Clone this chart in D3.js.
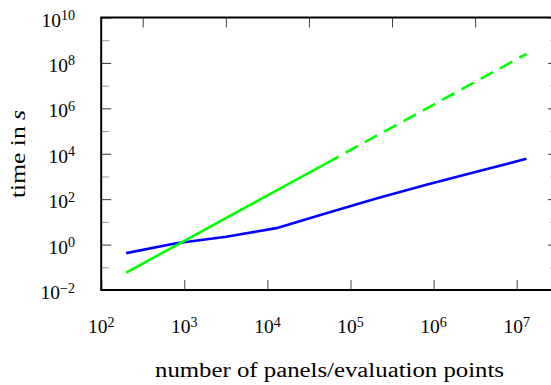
<!DOCTYPE html>
<html>
<head>
<meta charset="utf-8">
<script src="https://cdn.jsdelivr.net/npm/d3@7"></script>
<style>
  html, body { margin: 0; padding: 0; background: #fff; }
  svg { display: block; }
  text { font-family: "Liberation Serif", "Times New Roman", serif; fill: #000; }
</style>
</head>
<body>
<svg id="chart" width="551" height="385"></svg>
<script>
// Problem sizes (number of panels / evaluation points)
const sizes = [200, 800, 3200, 12800, 51200, 204800, 819200, 3276800, 13107200];

// Fast method: measured run times in seconds
const fastTimes = [0.42, 1.15, 2.2, 5.3, 24, 108, 430, 1600, 6000];

// Direct method: measured run times (solid) and extrapolated times (dashed)
const directSizes = [200, 800, 3200, 12800, 51200];
const directTimes = [0.058, 0.93, 14.9, 238, 3800];
const directExtraSizes = [51200, 204800, 819200, 3276800, 13107200];
const directExtraTimes = [3800, 61000, 975000, 15600000, 250000000];

// Tick exponents
const xTickExps = [2, 3, 4, 5, 6, 7];
const xTopTickExps = [2.5, 3.5, 4.5, 5.5, 6.5];
const yMajorExps = [-2, 0, 2, 4, 6, 8, 10];
const yMinorExps = [-1, 1, 3, 5, 7, 9];

const svg = d3.select("#chart");

const plotLeft = 101.2, plotRight = 558.2, plotTop = 17.5, plotBottom = 290;

const x = d3.scaleLog().domain([1e2, Math.pow(10, 7.5)]).range([plotLeft, plotRight]);
const y = d3.scaleLog().domain([1e-2, 1e10]).range([plotBottom, plotTop]);

const pow = e => Math.pow(10, e);

// Tick marks (all pointing into the plot area)
function tickAxis(axisFn, scale, exps, size, color, transform) {
  const g = svg.append("g")
    .attr("transform", transform)
    .call(axisFn(scale).tickValues(exps.map(pow)).tickSizeInner(size).tickSizeOuter(0).tickFormat(""));
  g.select(".domain").remove();
  g.selectAll(".tick line").attr("stroke", color).attr("stroke-width", 1);
  return g;
}

tickAxis(d3.axisBottom, x, xTickExps, -10, "#444", `translate(0,${plotBottom})`);
tickAxis(d3.axisTop, x, xTopTickExps, -10, "#444", `translate(0,${plotTop})`);
tickAxis(d3.axisLeft, y, yMajorExps, -10, "#333", `translate(${plotLeft},0)`);
tickAxis(d3.axisLeft, y, yMinorExps, -8, "#999", `translate(${plotLeft},0)`);
tickAxis(d3.axisRight, y, yMajorExps, -10, "#333", `translate(${plotRight},0)`);
tickAxis(d3.axisRight, y, yMinorExps, -8, "#bbb", `translate(${plotRight},0)`);

// Power-of-ten tick labels
function powLabel(sel, exp) {
  sel.append("tspan").attr("font-size", 19.5).text("10");
  sel.append("tspan").attr("font-size", 14).attr("dy", -6.5)
    .text(exp < 0 ? "\u2212" + Math.abs(exp) : String(exp));
}

xTickExps.forEach(e => {
  const t = svg.append("text")
    .attr("x", x(pow(e)))
    .attr("y", 333.3)
    .attr("text-anchor", "middle");
  powLabel(t, e);
});

yMajorExps.forEach(e => {
  const t = svg.append("text")
    .attr("x", 75)
    .attr("y", y(pow(e)) + 9)
    .attr("text-anchor", "end");
  powLabel(t, e);
});

// Series lines
const line = d3.line().x(d => x(d[0])).y(d => y(d[1]));
const zip = (a, b) => a.map((v, i) => [v, b[i]]);

const plot = svg.append("g");
plot.append("path")
  .datum(zip(sizes, fastTimes))
  .attr("d", line)
  .attr("fill", "none").attr("stroke", "#0000ff").attr("stroke-width", 2.6)
  .attr("stroke-linejoin", "round");

plot.append("path")
  .datum(zip(directSizes, directTimes))
  .attr("d", line)
  .attr("fill", "none").attr("stroke", "#00ff00").attr("stroke-width", 2.6);

plot.append("path")
  .datum(zip(directExtraSizes, directExtraTimes))
  .attr("d", line)
  .attr("fill", "none").attr("stroke", "#00ff00").attr("stroke-width", 2.6)
  .attr("stroke-dasharray", "14,8");

// Frame
svg.append("rect")
  .attr("x", plotLeft).attr("y", plotTop)
  .attr("width", plotRight - plotLeft).attr("height", plotBottom - plotTop)
  .attr("fill", "none").attr("stroke", "#000").attr("stroke-width", 2);

// Axis titles
svg.append("text")
  .attr("x", 329.5).attr("y", 376.5)
  .attr("text-anchor", "middle")
  .attr("font-size", 20.5)
  .attr("textLength", 349).attr("lengthAdjust", "spacingAndGlyphs")
  .text("number of panels/evaluation points");

const yt = svg.append("text")
  .attr("transform", "translate(25,154) rotate(-90)")
  .attr("text-anchor", "middle")
  .attr("font-size", 20.5)
  .attr("textLength", 88).attr("lengthAdjust", "spacingAndGlyphs");
yt.append("tspan").text("time in ");
yt.append("tspan").attr("font-style", "italic").text("s");
</script>
</body>
</html>
